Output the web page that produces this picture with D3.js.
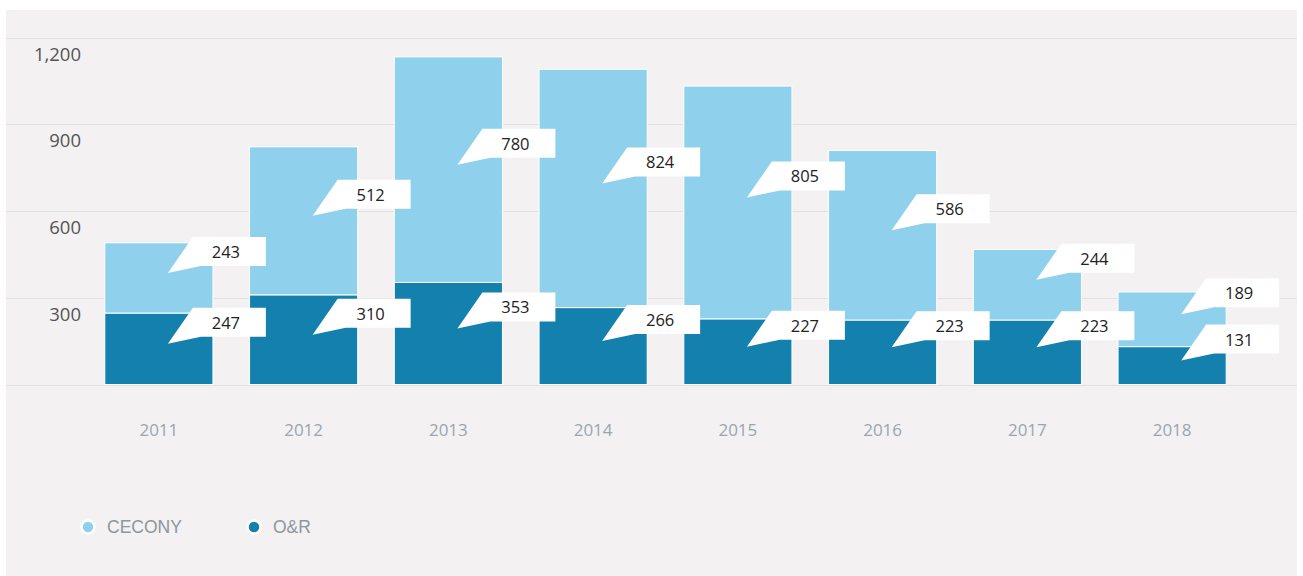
<!DOCTYPE html>
<html>
<head>
<meta charset="utf-8">
<script src="https://cdn.jsdelivr.net/npm/d3@7"></script>
<style>
  html, body { margin: 0; padding: 0; background: #ffffff; }
  svg { display: block; }
</style>
</head>
<body>
<svg id="chart" width="1303" height="576"></svg>
<script>
const years = ["2011", "2012", "2013", "2014", "2015", "2016", "2017", "2018"];
const orValues = [247, 310, 353, 266, 227, 223, 223, 131];
const ceconyValues = [243, 512, 780, 824, 805, 586, 244, 189];
const seriesNames = ["CECONY", "O&R"];
const yTicks = [0, 300, 600, 900, 1200];

const colors = { "CECONY": "#8fd0ec", "O&R": "#1380ae" };

const svg = d3.select("#chart");

svg.append("rect").attr("x", 6).attr("y", 10).attr("width", 1291).attr("height", 566).attr("fill", "#f3f1f2");

const x = d3.scaleBand().domain(years).range([86.5, 1244.5]).paddingInner(0.253).paddingOuter(0.1265);
const y = d3.scaleLinear().domain([0, 1200]).range([384.5, 37.5]);

// grid
svg.append("g").selectAll("line").data(yTicks).join("line")
  .attr("x1", 6).attr("x2", 1297)
  .attr("y1", d => Math.round(y(d)) + 0.5).attr("y2", d => Math.round(y(d)) + 0.5)
  .attr("stroke", "#e0e2e2").attr("stroke-width", 1.2);

// y labels
svg.append("g").selectAll("text").data(yTicks.filter(d => d > 0)).join("text")
  .attr("x", 81).attr("y", d => y(d) + 23)
  .attr("text-anchor", "end")
  .attr("font-family", "'Open Sans', sans-serif").attr("font-size", 18.5)
  .attr("fill", "#555")
  .text(d => d3.format(",")(d));

// x labels
svg.append("g").selectAll("text").data(years).join("text")
  .attr("x", d => x(d) + x.bandwidth() / 2).attr("y", 436)
  .attr("text-anchor", "middle")
  .attr("font-family", "'Open Sans', sans-serif").attr("font-size", 17)
  .attr("fill", "#9aa6ae")
  .text(d => d);

const rows = years.map((yr, i) => ({ year: yr, "O&R": orValues[i], "CECONY": ceconyValues[i] }));
const stack = d3.stack().keys(["O&R", "CECONY"])(rows);

const barG = svg.append("g");
stack.forEach(layer => {
  barG.selectAll(null).data(layer).join("rect")
    .attr("x", d => x(d.data.year))
    .attr("width", x.bandwidth())
    .attr("y", d => y(d[1]))
    .attr("height", d => y(d[0]) - y(d[1]))
    .attr("fill", colors[layer.key])
    .attr("stroke", "#ffffff").attr("stroke-width", 1);
});

// callouts
const calloutG = svg.append("g");
stack.forEach(layer => {
  layer.forEach(d => {
    const cx = x(d.data.year) + x.bandwidth() / 2;
    const mid = (y(d[0]) + y(d[1])) / 2;
    const tx = cx + 9, ty = mid - 5;
    const bl = tx + 25, br = tx + 98, bt = ty - 36, bb = ty - 7;
    const pts = [[tx, ty], [bl, bt], [br, bt], [br, bb], [bl + 8, bb]];
    calloutG.append("path")
      .attr("d", d3.line()(pts) + "Z")
      .attr("fill", "#ffffff");
    calloutG.append("text")
      .attr("x", bl + 33).attr("y", (bt + bb) / 2 + 6.5)
      .attr("text-anchor", "middle")
      .attr("font-family", "'Open Sans', sans-serif").attr("font-size", 16.5)
      .attr("fill", "#222")
      .text(d.data[layer.key]);
  });
});

// legend
const legend = svg.append("g");
const legendX = [88, 254];
seriesNames.forEach((name, i) => {
  legend.append("circle").attr("cx", legendX[i]).attr("cy", 527).attr("r", 6.5)
    .attr("fill", colors[name]).attr("stroke", "#ffffff").attr("stroke-width", 2.5);
  legend.append("text").attr("x", legendX[i] + 19).attr("y", 533)
    .attr("font-family", "'Liberation Sans', Arial, sans-serif").attr("font-size", 17.5)
    .attr("fill", "#8d979c")
    .text(name);
});
</script>
</body>
</html>
